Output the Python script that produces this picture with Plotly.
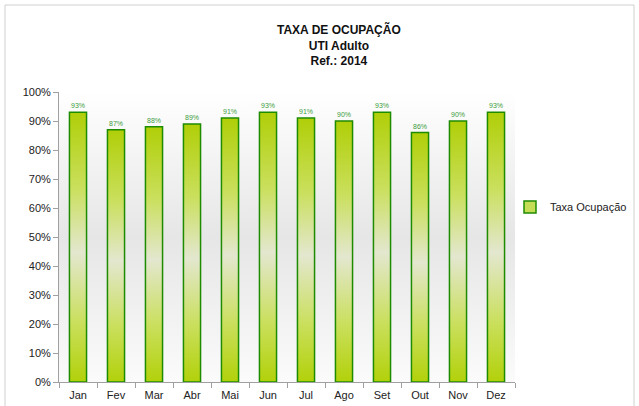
import base64
import plotly.graph_objects as go

months = ["Jan", "Fev", "Mar", "Abr", "Mai", "Jun", "Jul", "Ago", "Set", "Out", "Nov", "Dez"]
taxa = [93, 87, 88, 89, 91, 93, 91, 90, 93, 86, 90, 93]
series_name = "Taxa Ocupação"
title_lines = ["TAXA DE OCUPAÇÃO", "UTI Adulto", "Ref.: 2014"]

W, H = 639, 406
L, R, T, B = 59, 124, 92, 24
BAR_W = 0.45


def svg_uri(stops):
    st = "".join(f'<stop offset="{o}" stop-color="{c}"/>' for o, c in stops)
    svg = ('<svg xmlns="http://www.w3.org/2000/svg" width="10" height="100" preserveAspectRatio="none">'
           f'<defs><linearGradient id="g" x1="0" y1="0" x2="0" y2="1">{st}</linearGradient></defs>'
           '<rect x="0" y="0" width="10" height="100" fill="url(#g)"/></svg>')
    return "data:image/svg+xml;base64," + base64.b64encode(svg.encode()).decode()


bg_uri = svg_uri([(0, "#ffffff"), (0.5, "#e6e6e6"), (1, "#fbfbfb")])
bar_uri = svg_uri([(0, "#b0cf08"), (0.28, "#cadf5c"), (0.52, "#e3e7cf"),
                   (0.78, "#cadf5c"), (1, "#b2d10a")])

fig = go.Figure()
fig.add_trace(go.Bar(
    x=months, y=taxa, width=BAR_W, showlegend=False,
    marker=dict(color="rgba(0,0,0,0)", line=dict(color="#1e8c00", width=1.5)),
    text=[f"{v}%" for v in taxa], textposition="outside",
    textfont=dict(size=7, color="#3c9c3c", family="Liberation Sans, Arial"),
    cliponaxis=False, hoverinfo="skip",
))
fig.add_trace(go.Bar(
    x=[None], y=[None], name=series_name, showlegend=True,
    marker=dict(color="#c5dd55", line=dict(color="#1e8c00", width=1.5)),
))

images = [dict(source=bg_uri, xref="paper", yref="paper", x=0, y=1, sizex=1, sizey=1,
               xanchor="left", yanchor="top", sizing="stretch", layer="below")]
for i, v in enumerate(taxa):
    images.append(dict(source=bar_uri, xref="x", yref="y", x=i - BAR_W / 2, y=v,
                       sizex=BAR_W, sizey=v, xanchor="left", yanchor="top",
                       sizing="stretch", layer="below"))

pw, ph = W - L - R, H - T - B
def px(x):
    return (x - L) / pw
def py(y):
    return (H - B - y) / ph

fig.update_layout(
    width=W, height=H,
    margin=dict(l=L, r=R, t=T, b=B, pad=0, autoexpand=False),
    paper_bgcolor="white", plot_bgcolor="white",
    font=dict(family="Liberation Sans, Arial", size=11, color="#222222"),
    images=images,
    showlegend=True,
    legend=dict(x=px(510), y=py(207), xanchor="left", yanchor="middle",
                font=dict(size=11, color="#222222"), itemwidth=30,
                bgcolor="rgba(0,0,0,0)", tracegroupgap=0),
    xaxis=dict(type="category", tickson="boundaries", ticks="outside", ticklen=5,
               tickcolor="#a0a0a0", showline=True, linecolor="#a0a0a0", linewidth=1,
               showgrid=False, tickfont=dict(size=11, color="#222222"),
               ticklabelstandoff=3, range=[-0.5, 11.5], automargin=False),
    yaxis=dict(range=[0, 100], dtick=10, ticksuffix="%", ticks="outside", ticklen=5,
               tickcolor="#a0a0a0", showline=True, linecolor="#a0a0a0", linewidth=1,
               showgrid=False, zeroline=False, tickfont=dict(size=11, color="#222222"),
               automargin=False),
    annotations=[dict(text="<br>".join(f"<b>{t}</b>" for t in title_lines),
                      xref="paper", yref="paper",
                      x=px(339), y=py(20.5), xanchor="center", yanchor="top", showarrow=False,
                      font=dict(size=12, color="#111111", family="Liberation Sans, Arial"),
                      align="center")],
    shapes=[dict(type="rect", xref="paper", yref="paper", x0=px(5), x1=px(634),
                 y0=py(420), y1=py(5), line=dict(color="#d0d0d0", width=1),
                 fillcolor="rgba(0,0,0,0)", layer="below")],
)

fig.write_html("out.html", config={"displayModeBar": False},
               post_script="document.body.style.margin='0px';")
